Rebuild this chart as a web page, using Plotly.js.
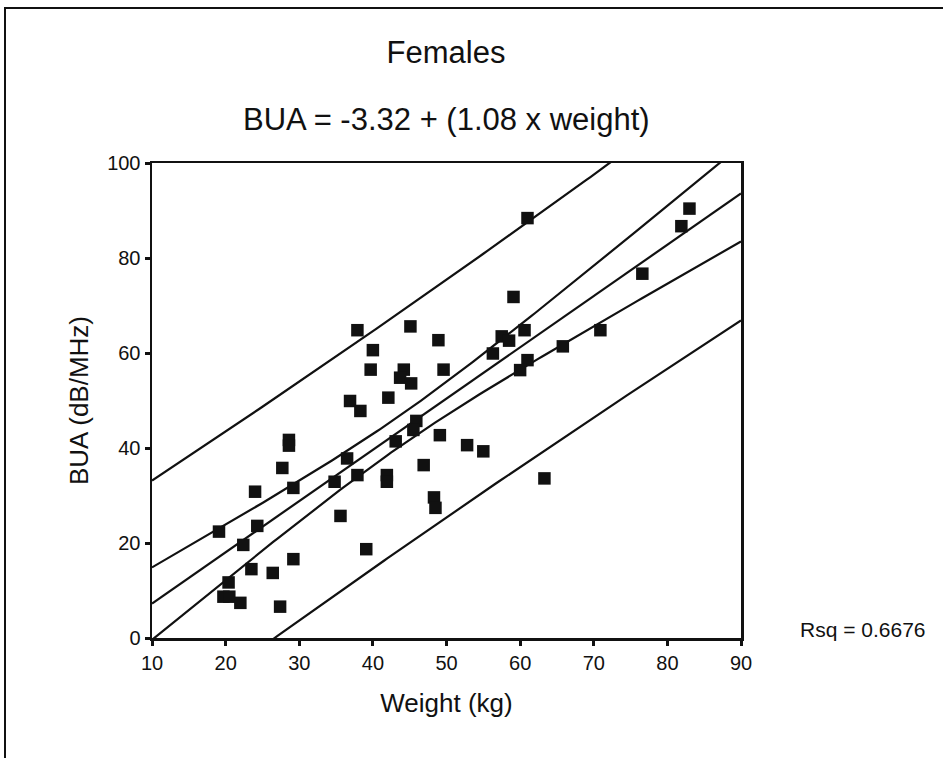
<!DOCTYPE html>
<html>
<head>
<meta charset="utf-8">
<script src="https://cdn.plot.ly/plotly-3.0.1.min.js"></script>
<style>
  html, body { margin: 0; padding: 0; background: #fff; }
  #frame { position: absolute; left: 4px; top: 7px; width: 1000px; height: 1000px;
           border-left: 2px solid #111; border-top: 2px solid #111; }
  #chart { position: absolute; left: 0; top: 0; width: 943px; height: 758px; }
</style>
</head>
<body>
<div id="frame"></div>
<div id="chart"></div>
<script>
// Weight (kg) of each female subject
const weight = [19.1, 19.7, 20.5, 20.4, 22.0, 22.4, 23.5, 24.0, 24.3, 26.4,
                27.4, 27.7, 28.6, 28.6, 29.2, 29.2, 34.8, 35.6, 36.5, 36.9,
                38.3, 37.9, 39.1, 42.1, 41.9, 41.9, 45.9, 45.5, 43.1, 46.9,
                49.1, 48.3, 48.5, 37.9, 45.1, 48.9, 40.0, 39.7, 44.2, 43.7,
                45.2, 49.6, 61.0, 83.0, 81.9, 76.6, 59.1, 57.5, 58.5, 60.6,
                56.3, 61.0, 60.0, 65.8, 70.9, 52.8, 55.0, 63.3];
// BUA (dB/MHz) of each female subject
const bua =    [22.4, 8.7, 8.7, 11.7, 7.4, 19.6, 14.5, 30.8, 23.6, 13.7,
                6.6, 35.8, 41.7, 40.5, 31.6, 16.6, 32.9, 25.7, 37.8, 49.9,
                47.8, 34.3, 18.7, 50.6, 34.3, 32.9, 45.7, 43.8, 41.4, 36.4,
                42.7, 29.6, 27.4, 64.8, 65.6, 62.7, 60.6, 56.5, 56.5, 54.8,
                53.6, 56.5, 88.4, 90.4, 86.7, 76.7, 71.8, 63.5, 62.6, 64.8,
                59.9, 58.5, 56.4, 61.4, 64.8, 40.6, 39.3, 33.6];

const xTicks = [10, 20, 30, 40, 50, 60, 70, 80, 90];
const yTicks = [0, 20, 40, 60, 80, 100];
const titleText = "Females";
const equationText = "BUA = -3.32 + (1.08 x weight)";
const rsqText = "Rsq = 0.6676";
const tCrit = 2.003; // t(0.975, df = 56)

// least-squares fit with 95% mean and individual bands, computed from the data
const n = weight.length;
const xbar = weight.reduce((s, v) => s + v, 0) / n;
const ybar = bua.reduce((s, v) => s + v, 0) / n;
let sxx = 0, sxy = 0;
for (let i = 0; i < n; i++) { sxx += (weight[i] - xbar) ** 2; sxy += (weight[i] - xbar) * (bua[i] - ybar); }
const slope = sxy / sxx;
const intercept = ybar - slope * xbar;
let sse = 0;
for (let i = 0; i < n; i++) sse += (bua[i] - intercept - slope * weight[i]) ** 2;
const sres = Math.sqrt(sse / (n - 2));

const gx = [];
for (let x = 10; x <= 90.001; x += 0.5) gx.push(x);
const fit = gx.map(x => intercept + slope * x);
const seMean = gx.map(x => sres * Math.sqrt(1 / n + (x - xbar) ** 2 / sxx));
const seInd = gx.map(x => sres * Math.sqrt(1 + 1 / n + (x - xbar) ** 2 / sxx));
const lineStyle = { color: '#111', width: 2.2 };
const mk = (y) => ({ x: gx, y: y, mode: 'lines', line: lineStyle, hoverinfo: 'skip', showlegend: false });

const traces = [
  mk(gx.map((x, i) => fit[i] + tCrit * seInd[i])),
  mk(gx.map((x, i) => fit[i] - tCrit * seInd[i])),
  mk(gx.map((x, i) => fit[i] + tCrit * seMean[i])),
  mk(gx.map((x, i) => fit[i] - tCrit * seMean[i])),
  mk(fit),
  { x: weight, y: bua, mode: 'markers', type: 'scatter', showlegend: false, cliponaxis: false,
    marker: { symbol: 'square', size: 12.5, color: '#111', line: { width: 0 } } }
];

const fontFam = '"Liberation Sans", Arial, Helvetica, sans-serif';
const layout = {
  width: 943, height: 758,
  margin: { l: 152, r: 202, t: 163, b: 120 },
  paper_bgcolor: 'rgba(0,0,0,0)', plot_bgcolor: 'rgba(0,0,0,0)',
  font: { family: fontFam, color: '#111', size: 20 },
  showlegend: false,
  title: { text: titleText, font: { size: 31, family: fontFam, color: '#111' },
           x: 0.473, xanchor: 'center', y: 1 - 52 / 758, yanchor: 'middle', yref: 'container' },
  xaxis: {
    range: [10, 90], tickvals: xTicks, ticktext: xTicks.map(String),
    showgrid: false, zeroline: false, showline: true, mirror: true, linecolor: '#111', linewidth: 2.5,
    ticks: 'outside', ticklen: 5, tickwidth: 3, tickcolor: '#111',
    tickfont: { size: 20 },
    title: { text: 'Weight (kg)', font: { size: 26 }, standoff: 22 }
  },
  yaxis: {
    range: [0, 100], tickvals: yTicks, ticktext: yTicks.map(String),
    showgrid: false, zeroline: false, showline: true, mirror: true, linecolor: '#111', linewidth: 2.5,
    ticks: 'outside', ticklen: 5, tickwidth: 3, tickcolor: '#111',
    tickfont: { size: 20 },
    title: { text: 'BUA (dB/MHz)', font: { size: 26 }, standoff: 11 }
  },
  annotations: [
    { text: equationText, xref: 'paper', yref: 'paper', x: 0.5, y: (638 - 119) / 475,
      xanchor: 'center', yanchor: 'middle', showarrow: false, font: { size: 31 } },
    { text: rsqText, xref: 'paper', yref: 'y', x: (798 - 152) / 589, y: 1.8,
      xanchor: 'left', yanchor: 'middle', showarrow: false, font: { size: 21 } }
  ]
};

Plotly.newPlot('chart', traces, layout, { staticPlot: true, displayModeBar: false });
</script>
</body>
</html>
